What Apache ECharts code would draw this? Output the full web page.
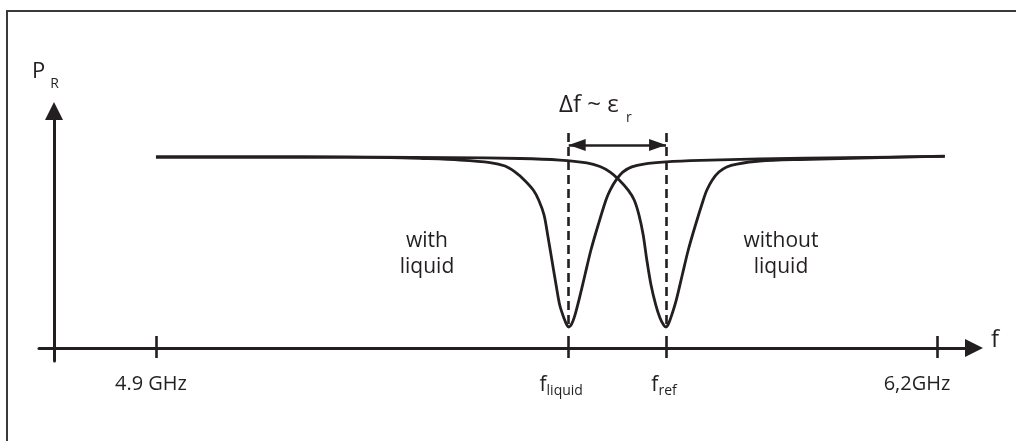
<!DOCTYPE html>
<html>
<head>
<meta charset="utf-8">
<script src="https://cdn.jsdelivr.net/npm/echarts@6/dist/echarts.min.js"></script>
<style>
html,body{margin:0;padding:0;background:#fff;}
#chart{width:1016px;height:441px;}
</style>
</head>
<body>
<div id="chart"></div>
<script>
// ---- data (frequency in GHz, reflected power P_R in relative units) ----
const freqWithLiquid = [4.900, 5.140, 5.290, 5.344, 5.406, 5.456, 5.481, 5.498, 5.513, 5.528, 5.537, 5.546, 5.552, 5.559, 5.566, 5.572, 5.579, 5.584, 5.587, 5.592, 5.597, 5.604, 5.614, 5.624, 5.636, 5.649, 5.656, 5.666, 5.677, 5.692, 5.712, 5.749, 5.806, 5.905, 6.055, 6.213];
const powerWithLiquid = [1.000, 1.000, 0.997, 0.992, 0.984, 0.971, 0.953, 0.921, 0.880, 0.827, 0.775, 0.696, 0.592, 0.461, 0.330, 0.225, 0.157, 0.120, 0.110, 0.126, 0.168, 0.251, 0.382, 0.513, 0.644, 0.775, 0.827, 0.880, 0.921, 0.948, 0.963, 0.974, 0.982, 0.990, 0.997, 1.003];

const freqWithoutLiquid = [4.900, 5.140, 5.389, 5.506, 5.572, 5.617, 5.639, 5.656, 5.671, 5.686, 5.696, 5.704, 5.711, 5.717, 5.724, 5.732, 5.739, 5.745, 5.749, 5.753, 5.758, 5.766, 5.776, 5.786, 5.798, 5.811, 5.817, 5.826, 5.837, 5.850, 5.867, 5.905, 5.972, 6.105, 6.213];
const powerWithoutLiquid = [1.000, 1.000, 0.997, 0.992, 0.984, 0.969, 0.950, 0.921, 0.880, 0.827, 0.775, 0.696, 0.592, 0.461, 0.330, 0.225, 0.157, 0.120, 0.110, 0.126, 0.168, 0.251, 0.382, 0.513, 0.644, 0.775, 0.827, 0.880, 0.921, 0.948, 0.963, 0.979, 0.987, 0.997, 1.005];

const fLiquid = 5.587;
const fRef = 5.749;
const tickValues = [4.9, fLiquid, fRef, 6.2];
const tickMain = ['4.9 GHz', 'f', 'f', '6,2GHz'];
const tickSub = ['', 'liquid', 'ref', ''];

const xMin = 4.7053, xMax = 6.2616;
const yMin = -0.0681, yMax = 1.2408;
const dashTop = 1.126, dashBottom = 0.110, arrowLevel = 1.063;

const ink = '#231f20';
const font = 'Open Sans';

function pairs(xs, ys) { return xs.map((x, i) => [x, ys[i]]); }

const chart = echarts.init(document.getElementById('chart'), null, {renderer: 'canvas'});

const tickRich = {
  m0: {fontSize: 20, lineHeight: 24, fontFamily: font, color: ink, padding: [0, 10, 0, 0]},
  m1: {fontSize: 21, lineHeight: 24, fontFamily: font, color: ink, padding: [3, 0, 0, 0]},
  s1: {fontSize: 14, lineHeight: 16, fontFamily: font, color: ink, padding: [14, 15, 0, 0]},
  m2: {fontSize: 21, lineHeight: 24, fontFamily: font, color: ink, padding: [3, 0, 0, 0]},
  s2: {fontSize: 14, lineHeight: 16, fontFamily: font, color: ink, padding: [14, 4, 0, 0]},
  m3: {fontSize: 20, lineHeight: 24, fontFamily: font, color: ink, padding: [0, 40, 0, 0]}
};

const curveStyle = {color: ink, width: 2.8};

const option = {
  backgroundColor: '#fff',
  animation: false,
  grid: {left: 39, right: 42, top: 111, bottom: 80, containLabel: false},
  xAxis: [{
    type: 'value', min: xMin, max: xMax, position: 'bottom',
    axisLine: {show: true, onZero: true, symbol: ['none', 'triangle'], symbolSize: [18, 18],
      lineStyle: {color: ink, width: 3}},
    axisTick: {show: true, customValues: tickValues, inside: false, length: 10,
      lineStyle: {color: ink, width: 2.6}},
    axisLabel: {show: true, customValues: tickValues, margin: 11, fontFamily: font, color: ink,
      formatter: function (v) {
        const i = tickValues.findIndex(t => Math.abs(t - v) < 1e-6);
        if (i < 0) return '';
        return tickSub[i] ? '{m' + i + '|' + tickMain[i] + '}{s' + i + '|' + tickSub[i] + '}'
                          : '{m' + i + '|' + tickMain[i] + '}';
      },
      rich: tickRich},
    splitLine: {show: false},
    name: '{n|f}', nameLocation: 'end', nameGap: 17,
    nameTextStyle: {rich: {n: {fontFamily: font, fontSize: 24, lineHeight: 24, color: ink, padding: [0, 0, 16, 0]}}}
  }, {
    type: 'value', min: xMin, max: xMax, position: 'bottom', offset: -13,
    axisLine: {show: false, onZero: false},
    axisTick: {show: true, customValues: tickValues, inside: true, length: 12,
      lineStyle: {color: ink, width: 2.6}},
    axisLabel: {show: false},
    splitLine: {show: false}
  }],
  yAxis: {
    type: 'value', min: yMin, max: yMax, position: 'left', offset: -15,
    axisLine: {show: true, onZero: false, symbol: ['none', 'triangle'], symbolSize: [18, 18],
      lineStyle: {color: ink, width: 3}},
    axisTick: {show: false}, axisLabel: {show: false}, splitLine: {show: false},
    name: '{p|P}{r|R}', nameLocation: 'end', nameGap: 26,
    nameTextStyle: {
      rich: {
        p: {fontSize: 22, lineHeight: 26, fontFamily: font, color: ink},
        r: {fontSize: 14, lineHeight: 16, fontFamily: font, color: ink, padding: [25, 17, 0, 5]}
      }
    }
  },
  graphic: [
    {type: 'rect', silent: true, z: -10, shape: {x: 7, y: 11, width: 1300, height: 700},
      style: {fill: 'none', stroke: '#3a3a3a', lineWidth: 2}},
    {type: 'text', silent: true, x: 427, y: 254,
      style: {text: 'with\nliquid', fontFamily: font, fontSize: 21, lineHeight: 26, fill: ink, align: 'center', verticalAlign: 'middle'}},
    {type: 'text', silent: true, x: 781, y: 254,
      style: {text: 'without\nliquid', fontFamily: font, fontSize: 21, lineHeight: 26, fill: ink, align: 'center', verticalAlign: 'middle'}},
    {type: 'text', silent: true, x: 559, y: 105,
      style: {text: 'Δf ~ ε', fontFamily: font, fontSize: 24, fill: ink, align: 'left', verticalAlign: 'middle'}},
    {type: 'text', silent: true, x: 626, y: 118,
      style: {text: 'r', fontFamily: font, fontSize: 14, fill: ink, align: 'left', verticalAlign: 'middle'}}
  ],
  series: [{
    type: 'line', name: 'with liquid', xAxisIndex: 0,
    data: pairs(freqWithLiquid, powerWithLiquid),
    showSymbol: false, smooth: 0.3,
    lineStyle: curveStyle,
    markLine: {
      silent: true, animation: false,
      label: {show: false},
      data: [
        [{coord: [fLiquid, dashTop], symbol: 'none', lineStyle: {type: [9, 5], width: 2.6, color: ink}},
         {coord: [fLiquid, dashBottom], symbol: 'none'}],
        [{coord: [fRef, dashTop], symbol: 'none', lineStyle: {type: [9, 5], width: 2.6, color: ink}},
         {coord: [fRef, dashBottom], symbol: 'none'}],
        [{coord: [fLiquid, arrowLevel], symbol: 'triangle', symbolSize: [12, 17], symbolOffset: [0, 8.5],
          lineStyle: {type: 'solid', width: 2.6, color: ink}},
         {coord: [fRef, arrowLevel], symbol: 'triangle', symbolSize: [12, 17], symbolOffset: [0, 8.5]}]
      ],
      itemStyle: {color: ink}
    }
  }, {
    type: 'line', name: 'without liquid', xAxisIndex: 0,
    data: pairs(freqWithoutLiquid, powerWithoutLiquid),
    showSymbol: false, smooth: 0.3,
    lineStyle: curveStyle
  }]
};
chart.setOption(option);
</script>
</body>
</html>
